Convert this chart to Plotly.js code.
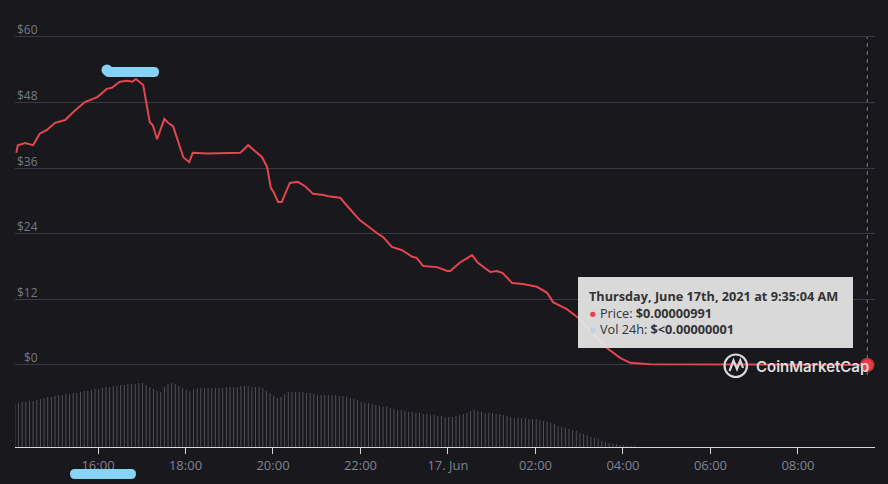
<!DOCTYPE html>
<html><head><meta charset="utf-8">
<script src="https://cdn.plot.ly/plotly-3.0.1.min.js"></script>
<style>html,body{margin:0;padding:0;background:#18181d;}#chart{width:888px;height:484px;}</style>
</head><body><div id="chart"></div>
<script>
// ---- data ----
const priceTimes = [
 '2021-06-16 14:08','2021-06-16 14:10','2021-06-16 14:20','2021-06-16 14:31','2021-06-16 14:40',
 '2021-06-16 14:50','2021-06-16 15:01','2021-06-16 15:15','2021-06-16 15:28','2021-06-16 15:42',
 '2021-06-16 15:59','2021-06-16 16:12','2021-06-16 16:19','2021-06-16 16:30','2021-06-16 16:40',
 '2021-06-16 16:47','2021-06-16 16:52','2021-06-16 17:02','2021-06-16 17:11','2021-06-16 17:15',
 '2021-06-16 17:21','2021-06-16 17:31','2021-06-16 17:36','2021-06-16 17:43','2021-06-16 17:57',
 '2021-06-16 18:05','2021-06-16 18:10','2021-06-16 18:30','2021-06-16 19:15','2021-06-16 19:26',
 '2021-06-16 19:38','2021-06-16 19:45','2021-06-16 19:52','2021-06-16 19:57','2021-06-16 20:01',
 '2021-06-16 20:07','2021-06-16 20:12','2021-06-16 20:23','2021-06-16 20:34','2021-06-16 20:44',
 '2021-06-16 20:55','2021-06-16 21:09','2021-06-16 21:18','2021-06-16 21:32','2021-06-16 21:43',
 '2021-06-16 21:59','2021-06-16 22:23','2021-06-16 22:31','2021-06-16 22:43','2021-06-16 22:57',
 '2021-06-16 23:11','2021-06-16 23:17','2021-06-16 23:26','2021-06-16 23:45','2021-06-16 23:59',
 '2021-06-17 00:03','2021-06-17 00:16','2021-06-17 00:33','2021-06-17 00:41','2021-06-17 00:58',
 '2021-06-17 01:07','2021-06-17 01:15','2021-06-17 01:28','2021-06-17 01:43','2021-06-17 02:02',
 '2021-06-17 02:16','2021-06-17 02:24','2021-06-17 02:43','2021-06-17 02:58','2021-06-17 03:15',
 '2021-06-17 03:38','2021-06-17 03:56','2021-06-17 04:10','2021-06-17 04:37','2021-06-17 06:00',
 '2021-06-17 08:00','2021-06-17 09:35:04'
];
const prices = [
 38.8,40.2,40.6,40.2,42.3,
 43.0,44.3,44.8,46.5,48.1,
 49.0,50.5,50.7,51.8,52.0,
 51.8,52.3,51.2,44.4,43.9,
 41.3,45.0,44.3,43.7,38.0,
 37.1,38.8,38.7,38.8,40.2,
 38.8,38.0,36.2,32.4,31.6,
 29.8,29.8,33.3,33.5,32.7,
 31.3,31.1,30.8,30.6,28.9,
 26.5,24.1,23.4,21.6,21.0,
 19.8,19.6,18.1,17.9,17.2,
 17.2,18.7,20.1,18.7,17.0,
 17.2,16.8,15.0,14.8,14.3,
 13.2,11.5,10.2,8.7,6.4,
 3.1,1.3,0.4,0.15,0.1,
 0.08,0.00000991
];
const volumeStart = '2021-06-16 14:06';
const volumeStepMs = 300000; // 5-minute bars
const volumes = [
 44,44,45,45,46,46,47,48,49,50,50,51,
 52,52,53,53,54,54,55,56,56,57,58,58,
 59,60,60,61,61,62,62,63,63,63,64,64,
 62,60,58,56,55,60,63,64,63,61,59,57,
 56,58,59,59,59,59,59,59,59,59,60,60,
 60,60,61,61,61,60,60,60,59,56,54,51,
 49,50,53,55,55,55,55,55,54,54,53,52,
 52,52,52,52,52,51,51,50,49,48,47,45,
 44,44,43,42,41,40,40,39,38,37,37,36,
 35,35,34,34,33,33,32,32,31,31,30,30,
 30,31,32,33,34,36,37,36,35,34,34,34,
 33,33,32,31,30,29,29,29,29,28,28,28,
 27,26,25,24,23,21,20,19,18,17,16,14,
 13,12,10,9,8,6,5,4,3,3,2,2,
 1,1,1
];
const xTickVals = ['2021-06-16 16:00','2021-06-16 18:00','2021-06-16 20:00','2021-06-16 22:00',
 '2021-06-17 00:00','2021-06-17 02:00','2021-06-17 04:00','2021-06-17 06:00','2021-06-17 08:00'];
const xTickText = ['16:00','18:00','20:00','22:00','17. Jun','02:00','04:00','06:00','08:00'];
const yTickVals = [0,12,24,36,48,60];
const yTickText = ['$0','$12','$24','$36','$48','$60'];
const tooltipTitle = 'Thursday, June 17th, 2021 at 9:35:04 AM';
const tooltipPriceLabel = 'Price:';
const tooltipPrice = '$0.00000991';
const tooltipVolLabel = 'Vol 24h:';
const tooltipVol = '$&lt;0.00000001';
const watermark = 'CoinMarketCap';

// ---- styling helpers (pixel -> paper) ----
const L = 15, R = 875, T = 20, B = 447;
const PX = X => (X - L) / (R - L);
const PY = Y => (B - Y) / (B - T);
function rrect(x0, y0, x1, y1, r) {
  return `M${PX(x0+r)},${PY(y0)} L${PX(x1-r)},${PY(y0)} Q${PX(x1)},${PY(y0)} ${PX(x1)},${PY(y0+r)} ` +
         `L${PX(x1)},${PY(y1-r)} Q${PX(x1)},${PY(y1)} ${PX(x1-r)},${PY(y1)} L${PX(x0+r)},${PY(y1)} ` +
         `Q${PX(x0)},${PY(y1)} ${PX(x0)},${PY(y1-r)} L${PX(x0)},${PY(y0+r)} Q${PX(x0)},${PY(y0)} ${PX(x0+r)},${PY(y0)} Z`;
}
const lastT = priceTimes[priceTimes.length - 1];
const lastP = prices[prices.length - 1];
const RED = '#e5454f';
const BLUE = '#86d3f6';

const traces = [
  { type: 'bar', x0: volumeStart, dx: volumeStepMs, y: volumes, yaxis: 'y2',
    width: 80000, marker: { color: '#50525e', line: { width: 0 } }, hoverinfo: 'skip' },
  { type: 'scatter', mode: 'lines', x: priceTimes, y: prices, yaxis: 'y',
    line: { color: RED, width: 2 }, hoverinfo: 'skip' },
  { type: 'scatter', mode: 'markers', x: [lastT], y: [lastP], yaxis: 'y', cliponaxis: false,
    marker: { color: '#ee3b48', size: 13, line: { color: '#b7313b', width: 1.5 } }, hoverinfo: 'skip' }
];

const annotations = yTickVals.map((v, i) => ({
  xref: 'paper', yref: 'y', x: PX(40), y: v, xanchor: 'right', yanchor: 'middle', yshift: 7,
  text: yTickText[i], showarrow: false, font: { family: 'Open Sans', size: 12, color: '#747887' }
}));
annotations.push({
  xref: 'paper', yref: 'paper', x: PX(578), y: PY(277), xanchor: 'left', yanchor: 'top',
  width: 253, height: 49, borderpad: 10, align: 'left', valign: 'middle', showarrow: false,
  bgcolor: 'rgba(230,230,230,0.94)', bordercolor: 'rgba(214,214,214,1)', borderwidth: 1,
  font: { family: 'Open Sans', size: 12.7, color: '#333333' },
  text: `<b>${tooltipTitle}</b><br><span style="color:${RED}">●</span> ${tooltipPriceLabel} <b>${tooltipPrice}</b><br>` +
        `<span style="color:#c3cfe4">●</span> ${tooltipVolLabel} <b>${tooltipVol}</b>`
});
annotations.push({
  xref: 'paper', yref: 'paper', x: PX(754), y: PY(366), xanchor: 'left', yanchor: 'middle',
  text: watermark, showarrow: false, font: { family: 'Inter', size: 15, weight: 600, color: '#dedede' }
});

const shapes = [
  { type: 'line', xref: 'x', yref: 'paper', x0: lastT, x1: lastT, y0: 0, y1: PY(37),
    line: { color: '#7a7d8a', width: 1, dash: '4px,4px' }, layer: 'below' },
  { type: 'circle', xref: 'paper', yref: 'paper', x0: PX(724.5), x1: PX(747), y0: PY(377), y1: PY(354.5),
    line: { color: '#d9d9d9', width: 2.2 } },
  { type: 'path', xref: 'paper', yref: 'paper', line: { color: '#d9d9d9', width: 2.2 },
    path: `M${PX(729.5)},${PY(371)} L${PX(733.5)},${PY(360.5)} L${PX(737)},${PY(369)} L${PX(740.3)},${PY(360.5)} L${PX(743)},${PY(368)}` },
  { type: 'path', xref: 'paper', yref: 'paper', fillcolor: BLUE, line: { width: 0 }, path: rrect(104, 67, 159, 77, 5) },
  { type: 'circle', xref: 'paper', yref: 'paper', fillcolor: BLUE, line: { width: 0 },
    x0: PX(101.5), x1: PX(112.5), y0: PY(75.5), y1: PY(64.5) },
  { type: 'path', xref: 'paper', yref: 'paper', fillcolor: BLUE, line: { width: 0 }, path: rrect(70, 469, 136, 479, 5) }
];

const layout = {
  width: 888, height: 484,
  margin: { l: L, r: 888 - R, t: T, b: 484 - B },
  paper_bgcolor: '#18181d', plot_bgcolor: '#18181d',
  showlegend: false, hovermode: false,
  xaxis: {
    type: 'date', range: ['2021-06-16 14:06:10', '2021-06-17 09:45:40'],
    tickmode: 'array', tickvals: xTickVals, ticktext: xTickText,
    ticks: 'outside', ticklen: 6, tickcolor: '#d8d8d8', tickwidth: 1,
    showline: true, linecolor: '#d8d8d8', linewidth: 1, showgrid: false, zeroline: false,
    tickfont: { family: 'Open Sans', size: 13, color: '#80838f' }, fixedrange: true
  },
  yaxis: {
    domain: [0, 1], range: [-15, 63.1], tickmode: 'array', tickvals: yTickVals,
    showticklabels: false, showgrid: true, gridcolor: '#393a47', gridwidth: 1,
    zeroline: false, showline: false, ticks: '', fixedrange: true
  },
  yaxis2: {
    domain: [0, 70 / (B - T)], range: [0, 70], visible: false, anchor: 'x', fixedrange: true
  },
  annotations, shapes
};

Plotly.newPlot('chart', traces, layout, { displayModeBar: false, staticPlot: true });
</script>
</body></html>
